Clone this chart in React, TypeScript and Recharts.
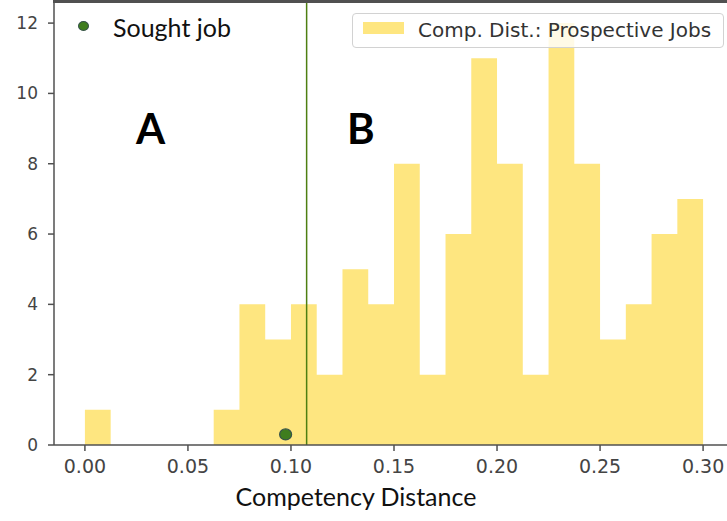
import React from 'react';
import {
  ComposedChart,
  Area,
  Scatter,
  XAxis,
  YAxis,
  ReferenceLine,
} from 'recharts';

// histogram bin left edges (last entry is the right edge of the final bin)
const binEdges = [
  0, 0.0125, 0.025, 0.0375, 0.05, 0.0625, 0.075, 0.0875, 0.1, 0.1125, 0.125, 0.1375,
  0.15, 0.1625, 0.175, 0.1875, 0.2, 0.2125, 0.225, 0.2375, 0.25, 0.2625, 0.275, 0.2875, 0.3,
];
// counts per bin (last value repeated so the step closes at 0.30)
const binCounts = [1, 0, 0, 0, 0, 1, 4, 3, 4, 2, 5, 4, 8, 2, 6, 11, 8, 2, 12, 8, 3, 4, 6, 7, 7];

const soughtJob = [{ x: 0.0974, y: 0.3 }];
const thresholdX = 0.1076;

const xTicks = [0, 0.05, 0.1, 0.15, 0.2, 0.25, 0.3];
const yTicks = [0, 2, 4, 6, 8, 10, 12];
const xDomain: [number, number] = [-0.015, 0.315];
const yMax = 12.6;

const histData = binEdges.map((x, i) => ({ x, count: binCounts[i] }));

const BAR_FILL = '#fee680';
const LINE_GREEN = '#4e7f12';
const SPINE = '#505050';

const tickFont = { fontFamily: 'DejaVu Sans', fill: '#444' };

const Dot = (props: any) => { // eslint-disable-line @typescript-eslint/no-explicit-any
  const { cx, cy } = props;
  return <ellipse cx={cx} cy={cy} rx={6} ry={5.5} fill="#3f7d1e" stroke="#37534a" strokeWidth={1.2} />;
};

export default function App() {
  return (
    <div style={{ position: 'absolute', left: 0, top: 0, width: 727, height: 521, overflow: 'hidden', background: '#fff' }}>
      <ComposedChart
        width={740}
        height={521}
        data={histData}
        margin={{ top: 2, right: 6, left: 0, bottom: 0 }}
      >
        <XAxis
          dataKey="x"
          type="number"
          domain={xDomain}
          ticks={xTicks}
          tickFormatter={(v: number) => v.toFixed(2)}
          allowDataOverflow
          height={76}
          tickSize={6}
          tickMargin={9}
          stroke={SPINE}
          strokeWidth={1.5}
          tick={{ ...tickFont, fontSize: 19 }}
        />
        <YAxis
          type="number"
          domain={[0, yMax]}
          ticks={yTicks}
          allowDataOverflow
          width={54}
          tickSize={6}
          tickMargin={10}
          stroke={SPINE}
          strokeWidth={1.5}
          tick={{ ...tickFont, fontSize: 17 }}
        />
        <Area
          type="stepAfter"
          dataKey="count"
          stroke="none"
          fill={BAR_FILL}
          fillOpacity={1}
          baseValue={0}
          isAnimationActive={false}
        />
        <ReferenceLine x={thresholdX} stroke={LINE_GREEN} strokeWidth={1.5} />
        <Scatter data={soughtJob} dataKey="y" shape={Dot} isAnimationActive={false} />
      </ComposedChart>

      {/* top spine */}
      <div style={{ position: 'absolute', left: 53, top: 0, width: 700, height: 3, background: SPINE, zIndex: 5 }} />

      {/* axis title */}
      <div style={{ position: 'absolute', left: 156, top: 481, width: 400, textAlign: 'center', fontFamily: 'Lato', fontSize: 25, color: '#111' }}>
        Competency Distance
      </div>

      {/* region labels */}
      <div style={{ position: 'absolute', left: 136, top: 103, fontFamily: 'Lato', fontWeight: 700, fontSize: 42, color: '#000' }}>A</div>
      <div style={{ position: 'absolute', left: 347, top: 103, fontFamily: 'Lato', fontWeight: 700, fontSize: 42, color: '#000' }}>B</div>

      {/* sought job legend */}
      <div style={{ position: 'absolute', left: 78, top: 21, width: 11, height: 10, borderRadius: '50%', background: '#3f7d1e', boxSizing: 'border-box', border: '1px solid #37534a' }} />
      <div style={{ position: 'absolute', left: 113, top: 12, fontFamily: 'Lato', fontSize: 25, color: '#111' }}>Sought job</div>

      {/* histogram legend */}
      <div
        style={{
          position: 'absolute',
          left: 352,
          top: 13,
          width: 372,
          height: 35,
          boxSizing: 'border-box',
          background: 'rgba(255,255,255,0.8)',
          border: '1px solid #d2d2d2',
          borderRadius: 4,
        }}
      >
        <div style={{ position: 'absolute', left: 10, top: 8, width: 41, height: 12, background: BAR_FILL }} />
        <div style={{ position: 'absolute', left: 65, top: 4, fontFamily: 'DejaVu Sans', fontSize: 20, color: '#333', whiteSpace: 'nowrap' }}>
          Comp. Dist.: Prospective Jobs
        </div>
      </div>
    </div>
  );
}
